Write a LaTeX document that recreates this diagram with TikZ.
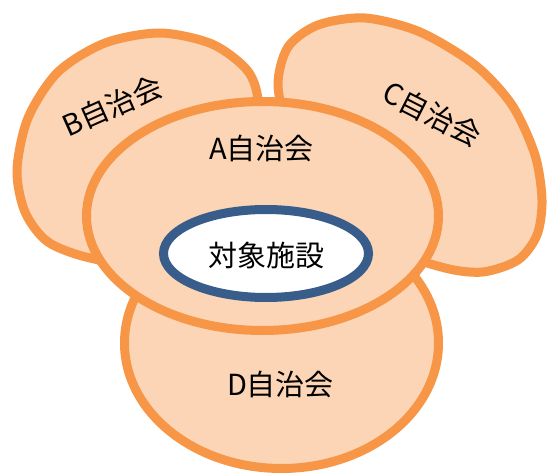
\documentclass[tikz,border=0pt]{standalone}
\usepackage{fontspec}
\newfontfamily\cjk{Noto Sans CJK JP}
\definecolor{orangeline}{HTML}{F79646}
\definecolor{orangefill}{HTML}{FBD5B5}
\definecolor{blueline}{HTML}{385D8A}
\tikzset{
  area/.style={draw=orangeline, fill=orangefill, line width=9pt},
  core/.style={draw=blueline, fill=white, line width=9pt},
  lbl/.style={font=\cjk\fontsize{29}{34}\selectfont, text=black, inner sep=0pt},
  corelbl/.style={font=\cjk\fontsize{29}{34}\selectfont, text=black, inner sep=0pt}
}
\begin{document}
\begin{tikzpicture}[x=1pt,y=-1pt]
\useasboundingbox (0,0) rectangle (547,476);
% B
\draw[area] plot[smooth cycle] coordinates {(160,33) (212,44) (247,70) (258,100) (255,150) (215,220) (140,262) (90,258) (48,242) (25,212) (17,170) (28,118) (58,72) (105,43)};
% C
\draw[area] plot[smooth cycle] coordinates {(365,18) (420,32) (475,65) (512,105) (535,155) (542,200) (537,235) (518,260) (483,272) (445,268) (400,250) (330,190) (290,130) (278,85) (288,47) (318,25)};
% D
\draw[area] (281.5,343) ellipse [x radius=157pt, y radius=125.5pt];
% A
\draw[area] (262.5,216) ellipse [x radius=176pt, y radius=114.5pt];
% core
\draw[core] (266,253.5) ellipse [x radius=102.5pt, y radius=44pt];
\node[corelbl] (core) at (266.5,255) {対象施設};
\node[lbl] (a) at (261.5,148.5) {A自治会};
\node[lbl, rotate=24] (b) at (112,106) {B自治会};
\node[lbl, rotate=-27] (c) at (432,114) {C自治会};
\node[lbl] (d) at (280.5,384) {D自治会};
\end{tikzpicture}
\end{document}
